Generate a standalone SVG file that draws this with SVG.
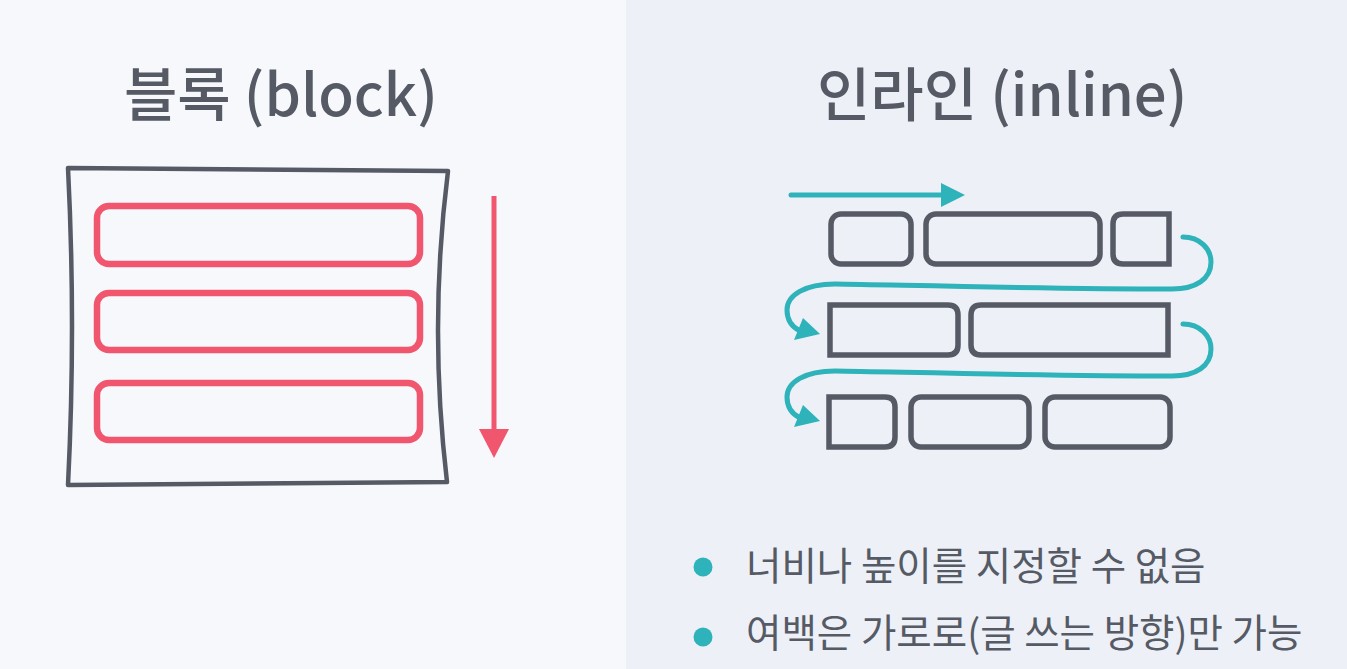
<svg xmlns="http://www.w3.org/2000/svg" width="1347" height="669" viewBox="0 0 1347 669">
<style>
.title{font-family:"Noto Sans CJK KR","Noto Sans",sans-serif;font-size:58px;font-weight:500;fill:#555a65}
.bul{font-family:"Noto Sans CJK KR","Noto Sans",sans-serif;font-size:38.5px;fill:#555a65}
.red{fill:none;stroke:#f1566f;stroke-width:6.5}
.gbox{fill:none;stroke:#555a65;stroke-width:5.5}
.teal{fill:none;stroke:#2db3b9;stroke-width:5;stroke-linecap:round}
.tealf{fill:#2db3b9}
</style>
<rect x="0" y="0" width="626" height="669" fill="#f7f8fb"/>
<rect x="626" y="0" width="721" height="669" fill="#edf0f6"/>

<g id="title-block"><text class="title" x="124" y="116">블록 (block)</text></g>
<g id="title-inline"><text class="title" x="817" y="116">인라인 (inline)</text></g>

<g id="block-container">
<path d="M68,168 L448,171 Q428.5,326 447,482 L68,485 Q76,326 68,168 Z" fill="none" stroke="#555a65" stroke-width="4.5" stroke-linejoin="round"/>
</g>
<g id="block-1"><rect class="red" x="97" y="206" width="323" height="58" rx="12"/></g>
<g id="block-2"><rect class="red" x="97" y="293" width="323" height="57" rx="12"/></g>
<g id="block-3"><rect class="red" x="97" y="383" width="323" height="57" rx="12"/></g>

<g id="inline-r1-1"><rect class="gbox" x="831" y="214" width="80" height="50" rx="10"/></g>
<g id="inline-r1-2"><rect class="gbox" x="926" y="214" width="174" height="50" rx="10"/></g>
<g id="inline-r1-3"><path class="gbox" d="M1169,214 L1123,214 Q1113,214 1113,224 L1113,254 Q1113,264 1123,264 L1169,264 Z"/></g>
<g id="inline-r2-1"><path class="gbox" d="M830,305 L948,305 Q958,305 958,315 L958,345 Q958,355 948,355 L830,355 Z"/></g>
<g id="inline-r2-2"><path class="gbox" d="M1168,305 L981,305 Q971,305 971,315 L971,345 Q971,355 981,355 L1168,355 Z"/></g>
<g id="inline-r3-1"><path class="gbox" d="M829,397 L885,397 Q895,397 895,407 L895,437 Q895,447 885,447 L829,447 Z"/></g>
<g id="inline-r3-2"><rect class="gbox" x="911" y="397" width="118" height="50" rx="10"/></g>
<g id="inline-r3-3"><rect class="gbox" x="1045" y="397" width="125" height="50" rx="10"/></g>

<g id="connectors">
<line x1="494" y1="196" x2="494" y2="432" stroke="#f1566f" stroke-width="5"/>
<polygon points="479,429 509,429 494,458" fill="#f1566f"/>

<line class="teal" x1="791" y1="195" x2="945" y2="195" stroke-linecap="butt"/>
<polygon class="tealf" points="941,183 965,195 941,207"/>

<path class="teal" d="M1183,237 C1200,237 1211,249 1211,262 C1211,279 1196,289 1172,289 C1050,289 900,285 835,284 C805,284 787,295 787,310 C787,320 792,327 800,331"/>
<polygon class="tealf" points="820,334 794,340 803,318"/>

<path class="teal" d="M1183,324 C1200,324 1211,336 1211,349 C1211,366 1196,376 1172,376 C1050,376 900,372 835,371 C805,371 787,382 787,397 C787,407 792,414 800,418"/>
<polygon class="tealf" points="820,421 794,427 803,405"/>
</g>

<g id="bullet-1">
<circle class="tealf" cx="703" cy="567" r="9.5"/>
<text class="bul" x="746" y="580">너비나 높이를 지정할 수 없음</text>
</g>
<g id="bullet-2">
<circle class="tealf" cx="703" cy="637" r="9.5"/>
<text class="bul" x="746" y="647">여백은 가로로(글 쓰는 방향)만 가능</text>
</g>
</svg>
